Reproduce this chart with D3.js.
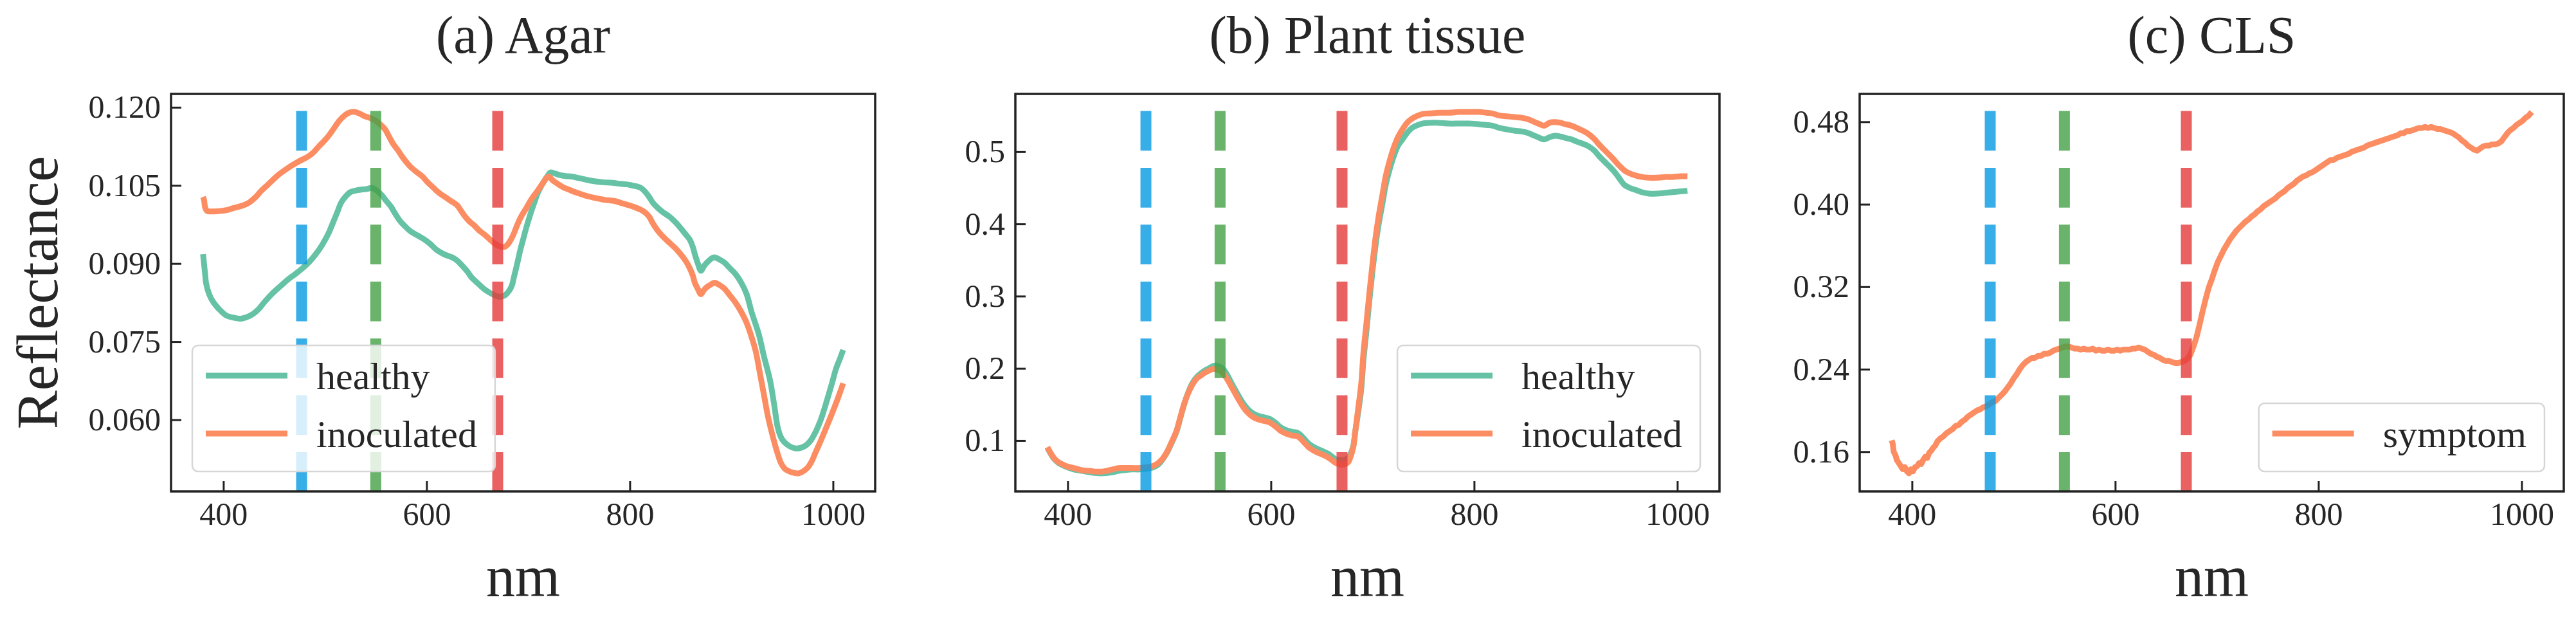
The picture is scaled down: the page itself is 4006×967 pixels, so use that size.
<!DOCTYPE html>
<html lang="en">
<head>
    <meta charset="UTF-8">
    <script src="https://cdn.jsdelivr.net/npm/d3@7"></script>
    <style>
        * { margin: 0; padding: 0; }
        body { background: #fff; }
        text { font-family: "Liberation Serif", "Times New Roman", serif; fill: #262626; }
    </style>
    <title>Reflectance spectra</title>
</head>
<body>
<script>
    const width = 4006;
    const height = 967;
    const plotTop = 146;
    const plotBottom = 764;
    const plotWidth = 1095;
    const panelLefts = [266, 1579, 2892];

    // ---- data ([nm, reflectance]) ----
    const titles = ["(a) Agar", "(b) Plant tissue", "(c) CLS"];
    const xTicks = [400, 600, 800, 1000];
    const agarTicks = [0.060, 0.075, 0.090, 0.105, 0.120];
    const tissueTicks = [0.1, 0.2, 0.3, 0.4, 0.5];
    const clsTicks = [0.16, 0.24, 0.32, 0.40, 0.48];
    const bandNm = [477, 550, 670];
    const bandColors = ["#069ae2", "#43a046", "#e33939"];

    const agarHealthy = [[380,0.0918],[382,0.0880],[383,0.0862],[386,0.0841],[390,0.0826],[395,0.0814],[403,0.0800],[410,0.0796],[417,0.0794],[423,0.0797],[429,0.0803],[435,0.0813],[440,0.0825],[448,0.0842],[457,0.0858],[464,0.0870],[471,0.0880],[478,0.0891],[485,0.0904],[491,0.0918],[497,0.0935],[503,0.0956],[508,0.0979],[512,0.0998],[516,0.1017],[520,0.1028],[525,0.1037],[530,0.1040],[536,0.1042],[541,0.1043],[546,0.1045],[551,0.1040],[556,0.1031],[560,0.1021],[565,0.1009],[569,0.0996],[573,0.0984],[578,0.0973],[584,0.0962],[591,0.0954],[598,0.0946],[604,0.0937],[610,0.0926],[618,0.0917],[627,0.0910],[631,0.0904],[635,0.0896],[640,0.0885],[644,0.0874],[651,0.0861],[658,0.0849],[665,0.0841],[672,0.0836],[677,0.0839],[681,0.0847],[684,0.0858],[686,0.0874],[689,0.0898],[692,0.0924],[695,0.0946],[698,0.0968],[702,0.0994],[706,0.1017],[710,0.1038],[715,0.1056],[719,0.1068],[722,0.1075],[726,0.1073],[731,0.1070],[737,0.1068],[743,0.1067],[750,0.1064],[757,0.1061],[765,0.1058],[774,0.1056],[783,0.1055],[791,0.1053],[797,0.1052],[802,0.1050],[807,0.1048],[811,0.1045],[815,0.1038],[819,0.1028],[823,0.1016],[828,0.1006],[833,0.0998],[839,0.0990],[845,0.0979],[850,0.0968],[855,0.0956],[859,0.0946],[862,0.0932],[864,0.0918],[867,0.0900],[870,0.0886],[873,0.0895],[876,0.0902],[880,0.0909],[883,0.0912],[888,0.0908],[893,0.0902],[898,0.0892],[904,0.0880],[910,0.0862],[915,0.0841],[920,0.0806],[927,0.0764],[932,0.0722],[938,0.0676],[942,0.0630],[946,0.0582],[950,0.0562],[955,0.0552],[963,0.0545],[972,0.0549],[978,0.0560],[983,0.0577],[988,0.0600],[994,0.0637],[999,0.0670],[1003,0.0698],[1007,0.0718],[1010,0.0734]];
    const agarInoculated = [[380,0.1028],[381,0.1022],[382,0.1008],[384,0.1001],[390,0.1000],[398,0.1001],[404,0.1003],[409,0.1006],[415,0.1009],[420,0.1012],[426,0.1018],[432,0.1028],[437,0.1039],[443,0.1050],[449,0.1061],[454,0.1070],[461,0.1080],[468,0.1089],[475,0.1097],[483,0.1105],[489,0.1114],[494,0.1125],[500,0.1137],[505,0.1149],[510,0.1163],[514,0.1174],[518,0.1182],[522,0.1188],[526,0.1191],[530,0.1191],[535,0.1187],[539,0.1183],[545,0.1179],[550,0.1174],[555,0.1166],[559,0.1158],[563,0.1144],[567,0.1130],[572,0.1117],[576,0.1105],[580,0.1095],[584,0.1086],[590,0.1076],[596,0.1067],[601,0.1056],[607,0.1045],[612,0.1036],[618,0.1028],[624,0.1020],[630,0.1012],[634,0.1001],[638,0.0990],[642,0.0981],[647,0.0973],[652,0.0963],[658,0.0954],[663,0.0945],[668,0.0937],[672,0.0933],[677,0.0932],[680,0.0937],[683,0.0946],[686,0.0958],[689,0.0973],[693,0.0990],[698,0.1006],[703,0.1023],[709,0.1039],[714,0.1053],[720,0.1067],[724,0.1060],[729,0.1053],[734,0.1047],[740,0.1042],[745,0.1038],[751,0.1034],[759,0.1029],[768,0.1025],[776,0.1022],[785,0.1020],[792,0.1016],[799,0.1012],[805,0.1008],[811,0.1003],[815,0.0998],[819,0.0990],[823,0.0976],[828,0.0962],[833,0.0951],[839,0.0940],[845,0.0929],[850,0.0918],[855,0.0905],[859,0.0891],[862,0.0877],[864,0.0863],[867,0.0851],[870,0.0841],[873,0.0849],[876,0.0855],[880,0.0860],[883,0.0863],[888,0.0859],[893,0.0852],[898,0.0840],[904,0.0825],[910,0.0806],[915,0.0786],[920,0.0758],[924,0.0731],[928,0.0690],[932,0.0648],[936,0.0606],[941,0.0566],[945,0.0538],[949,0.0516],[953,0.0505],[958,0.0500],[966,0.0497],[970,0.0500],[975,0.0508],[979,0.0520],[983,0.0538],[988,0.0560],[994,0.0588],[999,0.0612],[1004,0.0637],[1007,0.0653],[1010,0.0670]];

    const tissueHealthy = [[380,0.090],[384,0.080],[387,0.074],[391,0.069],[395,0.066],[400,0.063],[406,0.060],[414,0.058],[422,0.056],[428,0.055],[433,0.0546],[438,0.055],[444,0.056],[450,0.058],[455,0.059],[463,0.060],[471,0.060],[477,0.061],[482,0.062],[486,0.064],[490,0.068],[494,0.075],[498,0.084],[502,0.096],[507,0.112],[511,0.132],[515,0.152],[519,0.168],[523,0.180],[527,0.188],[531,0.193],[535,0.197],[539,0.200],[543,0.203],[546,0.204],[550,0.202],[553,0.199],[557,0.191],[561,0.180],[565,0.170],[569,0.160],[573,0.151],[577,0.144],[582,0.138],[588,0.134],[594,0.132],[599,0.130],[605,0.124],[610,0.118],[616,0.114],[621,0.112],[626,0.111],[629,0.108],[633,0.102],[637,0.096],[641,0.092],[645,0.089],[650,0.086],[656,0.082],[660,0.078],[664,0.074],[668,0.073],[672,0.073],[676,0.076],[678,0.080],[681,0.092],[683,0.112],[686,0.140],[689,0.172],[691,0.210],[694,0.251],[697,0.295],[700,0.335],[703,0.370],[706,0.399],[710,0.430],[713,0.454],[717,0.476],[721,0.494],[725,0.508],[730,0.518],[734,0.526],[738,0.532],[743,0.536],[749,0.539],[757,0.540],[765,0.540],[775,0.539],[785,0.539],[795,0.539],[805,0.538],[812,0.537],[818,0.536],[825,0.533],[832,0.531],[840,0.529],[847,0.528],[853,0.526],[858,0.523],[863,0.520],[869,0.517],[874,0.520],[879,0.522],[885,0.521],[890,0.519],[896,0.517],[901,0.514],[907,0.511],[912,0.508],[918,0.502],[923,0.494],[930,0.484],[937,0.474],[942,0.465],[948,0.454],[953,0.450],[959,0.447],[965,0.444],[972,0.442],[980,0.442],[988,0.443],[995,0.444],[1003,0.445],[1010,0.446]];
    const tissueInoculated = [[380,0.091],[384,0.081],[387,0.075],[391,0.070],[395,0.067],[400,0.064],[406,0.062],[414,0.059],[422,0.058],[428,0.057],[433,0.057],[438,0.058],[444,0.060],[450,0.062],[455,0.062],[463,0.062],[471,0.062],[477,0.063],[482,0.064],[486,0.066],[490,0.070],[494,0.076],[498,0.085],[502,0.097],[507,0.113],[511,0.133],[515,0.152],[519,0.167],[523,0.178],[527,0.186],[531,0.190],[535,0.194],[539,0.197],[543,0.199],[546,0.199],[550,0.197],[553,0.193],[557,0.185],[561,0.175],[565,0.165],[569,0.155],[573,0.146],[577,0.139],[582,0.133],[588,0.129],[594,0.127],[599,0.125],[605,0.119],[610,0.113],[616,0.109],[621,0.107],[626,0.106],[629,0.103],[633,0.097],[637,0.091],[641,0.087],[645,0.084],[650,0.081],[656,0.077],[660,0.073],[664,0.069],[668,0.067],[672,0.067],[676,0.070],[678,0.076],[681,0.090],[683,0.112],[686,0.145],[689,0.180],[691,0.220],[694,0.262],[697,0.305],[700,0.345],[703,0.381],[706,0.410],[710,0.442],[713,0.466],[717,0.488],[721,0.506],[725,0.520],[730,0.532],[734,0.540],[738,0.545],[743,0.549],[749,0.552],[757,0.553],[765,0.554],[775,0.554],[785,0.555],[795,0.555],[805,0.555],[812,0.554],[818,0.553],[825,0.550],[832,0.549],[840,0.548],[847,0.547],[853,0.545],[858,0.542],[863,0.539],[869,0.536],[874,0.540],[879,0.541],[885,0.540],[890,0.538],[896,0.536],[901,0.533],[907,0.529],[912,0.525],[918,0.518],[923,0.510],[930,0.500],[937,0.490],[942,0.482],[948,0.474],[953,0.470],[959,0.467],[965,0.465],[972,0.464],[980,0.464],[988,0.465],[995,0.465],[1003,0.466],[1010,0.466]];

    const clsSymptom = [[380,0.171],[381,0.168],[382,0.160],[384,0.156],[385,0.152],[387,0.149],[389,0.146],[391,0.143],[393,0.145],[395,0.141],[397,0.139],[399,0.143],[401,0.141],[403,0.145],[405,0.146],[407,0.149],[409,0.148],[411,0.152],[413,0.155],[415,0.154],[417,0.159],[419,0.161],[421,0.164],[423,0.166],[425,0.170],[428,0.173],[431,0.175],[434,0.178],[437,0.180],[440,0.182],[443,0.185],[446,0.186],[449,0.189],[452,0.191],[455,0.194],[458,0.196],[461,0.198],[464,0.200],[467,0.201],[470,0.203],[473,0.204],[476,0.206],[479,0.208],[482,0.209],[485,0.212],[488,0.215],[491,0.218],[494,0.222],[497,0.226],[500,0.231],[503,0.235],[506,0.240],[509,0.244],[512,0.247],[515,0.249],[518,0.251],[521,0.251],[524,0.253],[527,0.253],[530,0.255],[533,0.255],[536,0.256],[539,0.258],[542,0.259],[545,0.260],[548,0.261],[551,0.262],[554,0.262],[557,0.261],[560,0.260],[563,0.260],[566,0.259],[569,0.260],[572,0.259],[575,0.259],[578,0.260],[581,0.258],[584,0.259],[587,0.258],[590,0.258],[593,0.259],[596,0.258],[599,0.258],[602,0.259],[605,0.258],[608,0.259],[611,0.259],[614,0.259],[617,0.260],[620,0.260],[623,0.261],[626,0.260],[629,0.259],[632,0.257],[635,0.255],[638,0.254],[641,0.252],[644,0.251],[647,0.249],[650,0.248],[653,0.248],[656,0.247],[659,0.246],[662,0.246],[665,0.247],[668,0.248],[671,0.250],[674,0.254],[677,0.262],[680,0.271],[683,0.283],[686,0.296],[689,0.308],[692,0.319],[695,0.327],[698,0.336],[701,0.344],[704,0.350],[707,0.356],[710,0.361],[713,0.366],[716,0.370],[719,0.374],[722,0.377],[725,0.380],[728,0.383],[731,0.385],[734,0.388],[737,0.390],[740,0.393],[743,0.395],[746,0.398],[749,0.400],[752,0.402],[755,0.404],[758,0.406],[761,0.409],[764,0.411],[767,0.413],[770,0.416],[773,0.418],[776,0.420],[779,0.423],[782,0.425],[785,0.427],[788,0.428],[791,0.430],[794,0.431],[797,0.433],[800,0.435],[803,0.437],[806,0.439],[809,0.441],[812,0.443],[815,0.443],[818,0.445],[821,0.446],[824,0.447],[827,0.448],[830,0.449],[833,0.451],[836,0.452],[839,0.453],[842,0.454],[845,0.455],[848,0.457],[851,0.458],[854,0.459],[857,0.460],[860,0.461],[863,0.462],[866,0.463],[869,0.464],[872,0.465],[875,0.466],[878,0.467],[881,0.469],[884,0.469],[887,0.471],[890,0.471],[893,0.472],[896,0.473],[899,0.474],[902,0.474],[905,0.475],[908,0.474],[911,0.475],[914,0.474],[917,0.473],[920,0.473],[923,0.472],[926,0.471],[929,0.470],[932,0.469],[935,0.467],[938,0.465],[941,0.462],[944,0.460],[947,0.457],[950,0.455],[953,0.453],[956,0.452],[959,0.454],[962,0.456],[965,0.457],[968,0.457],[971,0.458],[974,0.458],[977,0.459],[980,0.461],[983,0.465],[986,0.469],[989,0.472],[992,0.474],[995,0.477],[998,0.479],[1001,0.481],[1004,0.484],[1007,0.486],[1010,0.4895]];

    const healthyColor = "#66c2a5";
    const inoculatedColor = "#fc8d62";

    const panels = [
        { title: titles[0], ticks: agarTicks, fmt: d3.format(".3f"), legendSide: "left",
          series: [{ name: "healthy", values: agarHealthy, color: healthyColor },
                   { name: "inoculated", values: agarInoculated, color: inoculatedColor }] },
        { title: titles[1], ticks: tissueTicks, fmt: d3.format(".1f"), legendSide: "right",
          series: [{ name: "healthy", values: tissueHealthy, color: healthyColor },
                   { name: "inoculated", values: tissueInoculated, color: inoculatedColor }] },
        { title: titles[2], ticks: clsTicks, fmt: d3.format(".2f"), legendSide: "right",
          series: [{ name: "symptom", values: clsSymptom, color: inoculatedColor }] }
    ];

    let svg = d3.select("body").append("svg")
        .attr("width", width)
        .attr("height", height);

    // matplotlib style 5% margins
    function padded(ext) {
        let d = ext[1] - ext[0];
        return [ext[0] - 0.05 * d, ext[1] + 0.05 * d];
    }

    panels.forEach((p, i) => drawPanel(p, i));

    function drawPanel(p, i) {
        const left = panelLefts[i];
        const all = p.series.flatMap(s => s.values);
        const x = d3.scaleLinear()
            .domain(padded(d3.extent(all, d => d[0])))
            .range([left, left + plotWidth]);
        const y = d3.scaleLinear()
            .domain(padded(d3.extent(all, d => d[1])))
            .range([plotBottom, plotTop]);

        const g = svg.append("g");
        const clipId = "clip" + i;
        g.append("clipPath").attr("id", clipId)
            .append("rect")
            .attr("x", left).attr("y", plotTop)
            .attr("width", plotWidth).attr("height", plotBottom - plotTop);

        const plot = g.append("g").attr("clip-path", `url(#${clipId})`);

        const line = d3.line()
            .x(d => x(d[0]))
            .y(d => y(d[1]))
            .curve(i === 2 ? d3.curveLinear : d3.curveCatmullRom);

        plot.selectAll("path.series")
            .data(p.series)
            .join("path")
            .classed("series", true)
            .attr("d", s => line(s.values))
            .attr("fill", "none")
            .attr("stroke", s => s.color)
            .attr("stroke-width", 9)
            .attr("stroke-linejoin", "round");

        // band markers
        const dashTop = plotTop + 0.043 * (plotBottom - plotTop);
        plot.selectAll("line.band")
            .data(bandNm)
            .join("line")
            .classed("band", true)
            .attr("x1", d => x(d)).attr("x2", d => x(d))
            .attr("y1", dashTop).attr("y2", plotBottom + 20)
            .attr("stroke", (d, k) => bandColors[k])
            .attr("stroke-width", 17)
            .attr("stroke-opacity", 0.8)
            .attr("stroke-dasharray", "61.7 26.7");

        // legend
        const rowGap = 90;
        const lg = g.append("g");
        const box = lg.append("rect")
            .attr("rx", 9).attr("ry", 9)
            .attr("fill", "#fff").attr("fill-opacity", 0.8)
            .attr("stroke", "#d6d6d6").attr("stroke-width", 2.5);
        let maxW = 0;
        p.series.forEach((s, k) => {
            const cy = 47 + k * rowGap;
            lg.append("line")
                .attr("x1", 21).attr("x2", 148)
                .attr("y1", cy).attr("y2", cy)
                .attr("stroke", s.color).attr("stroke-width", 9);
            const t = lg.append("text")
                .attr("x", 193).attr("y", cy + 21)
                .attr("font-size", 60)
                .text(s.name);
            maxW = Math.max(maxW, t.node().getComputedTextLength());
        });
        const boxW = 193 + maxW + 28;
        const boxH = 47 + (p.series.length - 1) * rowGap + 59;
        box.attr("width", boxW).attr("height", boxH);
        const lx = p.legendSide === "left" ? left + 33 : left + plotWidth - 30 - boxW;
        lg.attr("transform", `translate(${lx},${plotBottom - 31 - boxH})`);

        // axes
        const xAxis = g.append("g")
            .attr("transform", `translate(0,${plotBottom})`)
            .call(d3.axisBottom(x).tickValues(xTicks).tickFormat(d3.format("d"))
                .tickSize(-16).tickSizeOuter(0).tickPadding(16));
        const yAxis = g.append("g")
            .attr("transform", `translate(${left},0)`)
            .call(d3.axisLeft(y).tickValues(p.ticks).tickFormat(p.fmt)
                .tickSize(-16).tickSizeOuter(0).tickPadding(16));
        [xAxis, yAxis].forEach(a => {
            a.attr("font-family", null).attr("font-size", null);
            a.select(".domain").remove();
            a.selectAll(".tick line").attr("stroke", "#222").attr("stroke-width", 3);
            a.selectAll(".tick text")
                .attr("font-size", 50)
                .attr("fill", "#262626");
        });

        g.append("rect")
            .attr("x", left).attr("y", plotTop)
            .attr("width", plotWidth).attr("height", plotBottom - plotTop)
            .attr("fill", "none")
            .attr("stroke", "#222")
            .attr("stroke-width", 3.5);

        g.append("text")
            .attr("x", left + plotWidth / 2)
            .attr("y", 82)
            .attr("text-anchor", "middle")
            .attr("font-size", 82)
            .text(p.title);

        g.append("text")
            .attr("x", left + plotWidth / 2)
            .attr("y", 927)
            .attr("text-anchor", "middle")
            .attr("font-size", 90)
            .text("nm");

        if (i === 0) {
            g.append("text")
                .attr("transform", `translate(89,${(plotTop + plotBottom) / 2}) rotate(-90)`)
                .attr("text-anchor", "middle")
                .attr("font-size", 90)
                .text("Reflectance");
        }
    }
</script>
</body>
</html>
